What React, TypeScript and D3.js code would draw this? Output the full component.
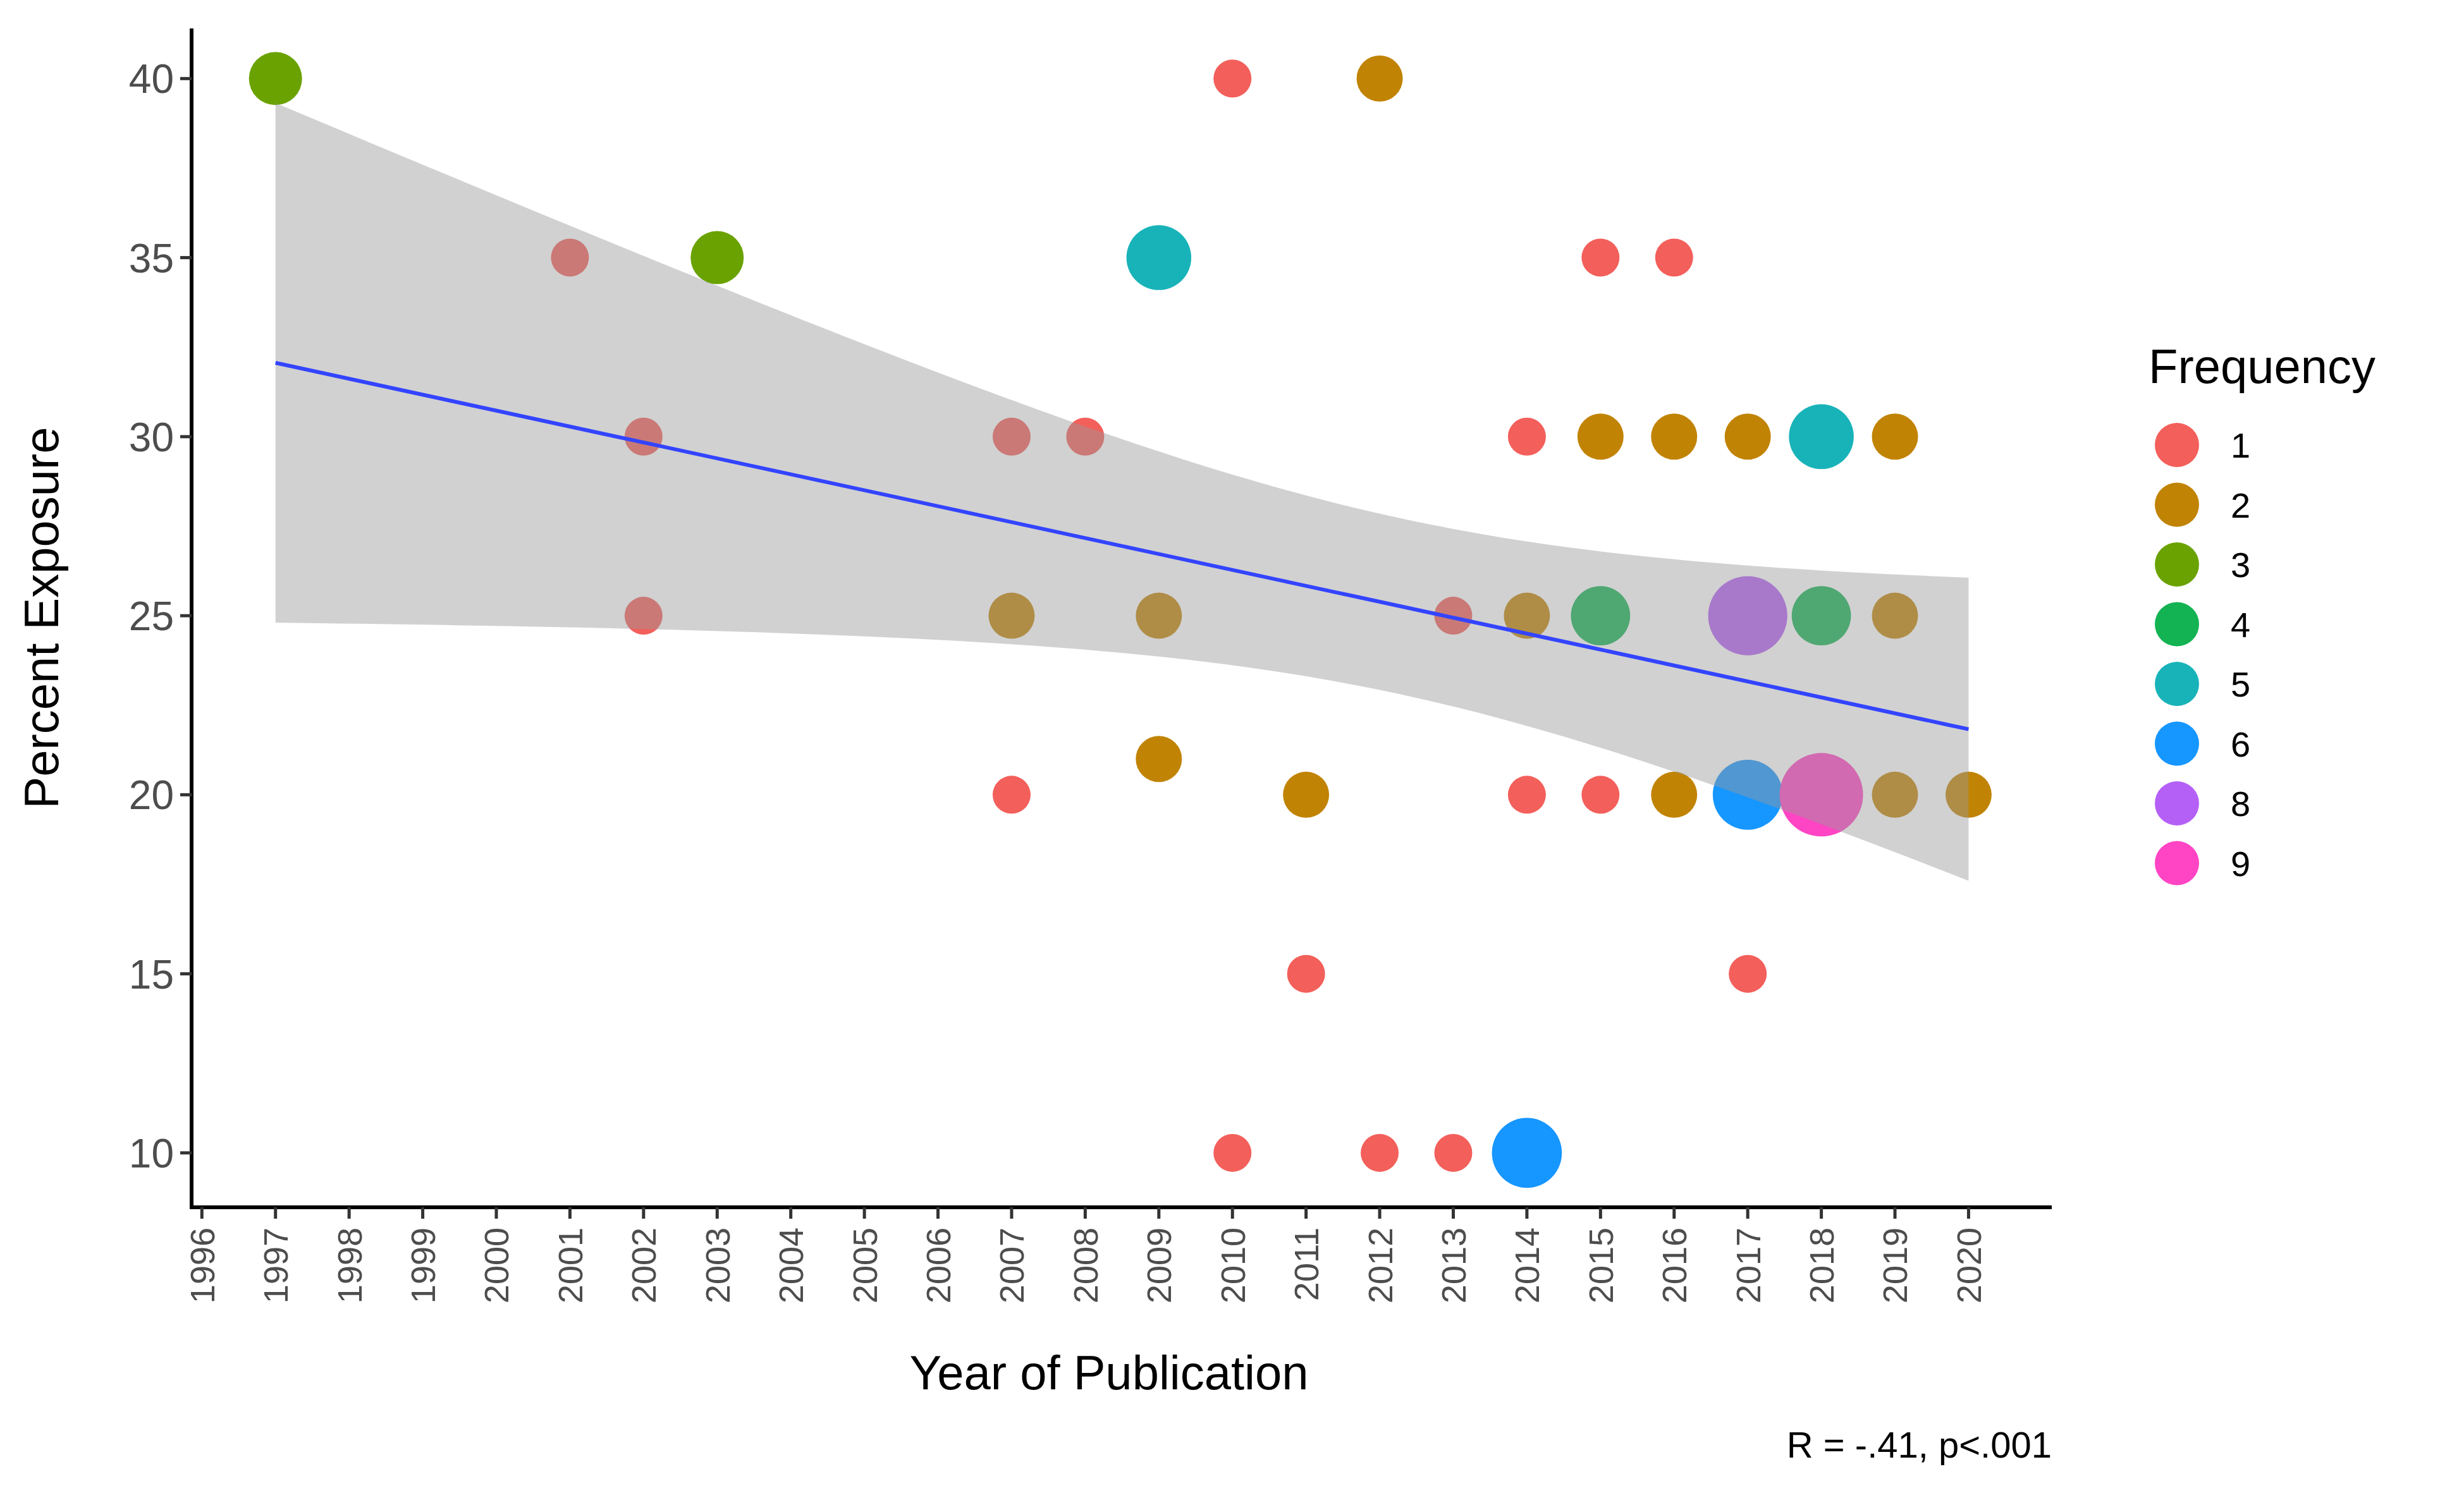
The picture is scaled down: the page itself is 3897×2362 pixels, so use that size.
import React from "react";
import * as d3 from "d3";

const years = [1997,2001,2002,2002,2003,2007,2007,2007,2008,2009,2009,2009,2010,2010,2011,2011,2012,2012,2013,2013,2014,2014,2014,2014,2015,2015,2015,2015,2016,2016,2016,2017,2017,2017,2017,2018,2018,2018,2019,2019,2019,2020];
const exposure = [40,35,30,25,35,30,25,20,30,35,25,21,40,10,20,15,40,10,25,10,30,25,20,10,35,30,25,20,35,30,20,30,25,20,15,30,25,20,30,25,20,20];
const freq = [3,1,1,1,3,1,2,1,1,5,2,2,1,1,2,1,2,1,1,1,1,2,1,6,1,2,4,1,1,2,2,2,8,6,1,5,4,9,2,2,2,2];
const levels = [1,2,3,4,5,6,8,9];
const colors = ["#F35F5A","#C18304","#6AA201","#13B353","#18B3B9","#1696FF","#B45FF5","#FF44C4"];
const yTicks = [10,15,20,25,30,35,40];
const xTicks = d3.range(1996, 2021);

const W = 3897, H = 2362;
const L = 303, R = 3245, T = 45, B = 1910;

export default function App() {
  const x = d3.scaleLinear().domain([1995.86, 2021.13]).range([L, R]);
  const y = d3.scaleLinear().domain([8.48, 41.4]).range([B, T]);
  const rad = (f: number) => Math.sqrt(900 + (f - 1) * 432);
  const col = (f: number) => colors[levels.indexOf(f)];

  // ordinary least squares fit with 95% CI
  const n = years.length;
  const mx = d3.mean(years)!;
  const my = d3.mean(exposure)!;
  const sxx = d3.sum(years.map((v) => (v - mx) ** 2));
  const sxy = d3.sum(years.map((v, i) => (v - mx) * (exposure[i] - my)));
  const b = sxy / sxx, a = my - b * mx;
  const sse = d3.sum(years.map((v, i) => (exposure[i] - a - b * v) ** 2));
  const s = Math.sqrt(sse / (n - 2));
  const tq = 2.021;
  const grid = d3.range(0, 81).map((k) => 1997 + (23 * k) / 80);
  const band = grid.map((g) => {
    const fit = a + b * g;
    const se = s * Math.sqrt(1 / n + (g - mx) ** 2 / sxx);
    return { g, fit, lo: fit - tq * se, hi: fit + tq * se };
  });
  const area = d3.area<any>().x((d) => x(d.g)).y0((d) => y(d.lo)).y1((d) => y(d.hi));
  const line = d3.line<any>().x((d) => x(d.g)).y((d) => y(d.fit));

  const font = "Arial, 'Liberation Sans', Helvetica, sans-serif";
  return (
    <svg width={W} height={H} style={{ position: "absolute", left: 0, top: 0, background: "#fff" }} fontFamily={font}>
      {years.map((yr, i) => (
        <circle key={i} cx={x(yr)} cy={y(exposure[i])} r={rad(freq[i])} fill={col(freq[i])} />
      ))}
      <path d={area(band) || ""} fill="#999999" fillOpacity={0.45} />
      <path d={line(band) || ""} fill="none" stroke="#3344FF" strokeWidth={6} />
      <line x1={L} x2={L} y1={T} y2={B + 3} stroke="#000" strokeWidth={6} />
      <line x1={L - 3} x2={R} y1={B} y2={B} stroke="#000" strokeWidth={6} />
      {yTicks.map((t) => (
        <g key={t}>
          <line x1={L - 18} x2={L} y1={y(t)} y2={y(t)} stroke="#333" strokeWidth={5} />
          <text x={L - 28} y={y(t)} dy="0.36em" textAnchor="end" fontSize={64} fill="#4D4D4D">{t}</text>
        </g>
      ))}
      {xTicks.map((t) => (
        <g key={t}>
          <line x1={x(t)} x2={x(t)} y1={B} y2={B + 18} stroke="#333" strokeWidth={5} />
          <text transform={`translate(${x(t)},${B + 32}) rotate(-90)`} dy="0.36em" textAnchor="end" fontSize={54} fill="#4D4D4D">{t}</text>
        </g>
      ))}
      <text transform={`translate(92,${(T + B) / 2}) rotate(-90)`} textAnchor="middle" fontSize={76} fill="#000">Percent Exposure</text>
      <text x={(L + R) / 2 - 20} y={2198} textAnchor="middle" fontSize={76} fill="#000">Year of Publication</text>
      <text x={R} y={2306} textAnchor="end" fontSize={58} fill="#000">R = -.41, p&lt;.001</text>
      <text x={3398} y={606} fontSize={76} fill="#000">Frequency</text>
      {levels.map((lv, i) => (
        <g key={lv}>
          <circle cx={3443} cy={704 + i * 94.5} r={35} fill={colors[i]} />
          <text x={3528} y={704 + i * 94.5} dy="0.36em" fontSize={56} fill="#000">{lv}</text>
        </g>
      ))}
    </svg>
  );
}
